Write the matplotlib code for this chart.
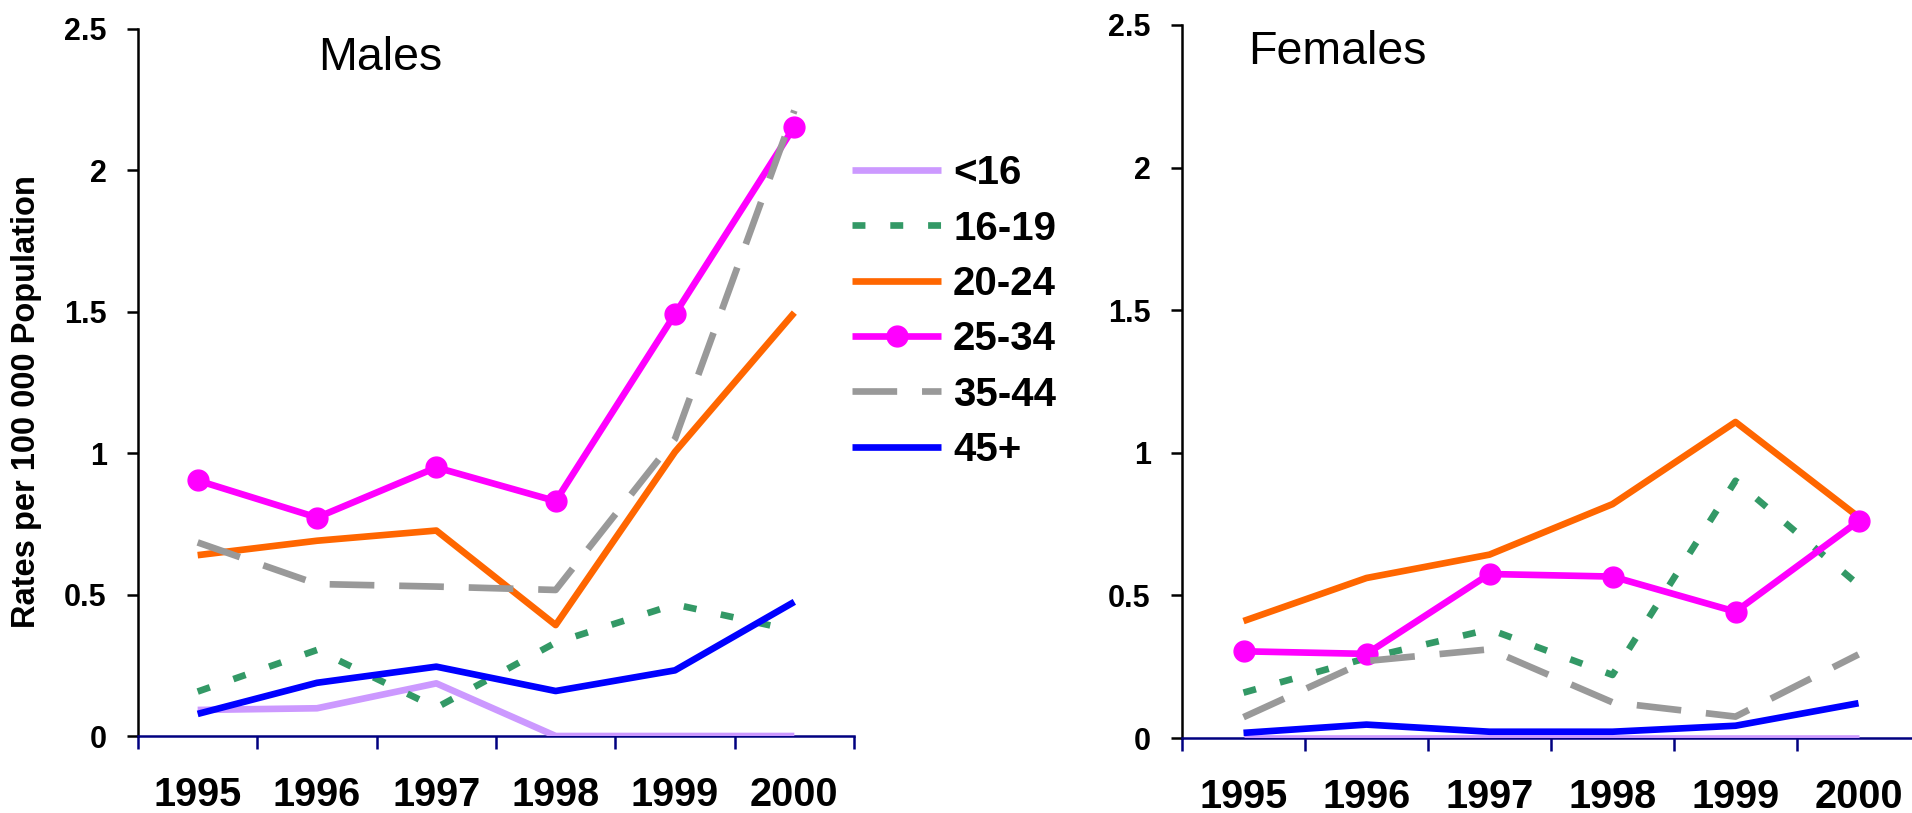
import numpy as np
import matplotlib
matplotlib.use('Agg')
import matplotlib.pyplot as plt

plt.rcParams['font.family']=['Liberation Sans','DejaVu Sans']

years=['1995','1996','1997','1998','1999','2000']
groups=['<16','16-19','20-24','25-34','35-44','45+']

# males, rates per 100 000
males_u16=[0.092,0.098,0.186,0.0,0.0,0.0]
males_16_19=[0.157,0.304,0.10,0.33,0.465,0.372]
males_20_24=[0.639,0.69,0.726,0.392,1.004,1.496]
males_25_34=[0.903,0.772,0.949,0.830,1.491,2.153]
males_35_44=[0.684,0.537,0.528,0.516,1.05,2.21]
males_45p=[0.078,0.188,0.245,0.159,0.232,0.474]

# females
females_u16=[0.0,0.0,0.0,0.0,0.0,0.0]
females_16_19=[0.159,0.28,0.381,0.221,0.902,0.537]
females_20_24=[0.41,0.561,0.643,0.82,1.108,0.775]
females_25_34=[0.304,0.295,0.575,0.566,0.443,0.76]
females_35_44=[0.073,0.27,0.311,0.125,0.075,0.293]
females_45p=[0.018,0.047,0.022,0.022,0.043,0.122]

yticks=[0,0.5,1,1.5,2,2.5]
ytick_labels=['0','0.5','1','1.5','2','2.5']

colors=['#CC99FF','#339966','#FF6600','#FF00FF','#999999','#0000FF']
navy='#000080'

def draw(ax,series,title,tx,ty):
    x=np.arange(len(years))
    for i,vals in enumerate(series):
        kw=dict(color=colors[i],lw=4.8,label=groups[i],solid_capstyle='butt',zorder=3)
        if i==3:
            kw.update(marker='o',ms=15,mec=colors[i],mfc=colors[i])
        line,=ax.plot(x,vals,**kw)
        if i==1:
            line.set_dashes((1.94,3.73))
        if i==4:
            line.set_dashes((6.7,3.73))
    ax.set_xlim(-0.5,5.5)
    ax.set_ylim(0,2.5)
    ax.set_yticks(yticks)
    ax.set_yticklabels(ytick_labels,fontsize=22,fontweight='bold')
    ax.set_xticks(x)
    ax.set_xticklabels(years,fontsize=28.5,fontweight='bold')
    ax.set_xticks(np.arange(-0.5,6,1),minor=True)
    ax.tick_params(axis='x',which='major',length=0,pad=29)
    ax.tick_params(axis='x',which='minor',length=9.5,width=1.8,color=navy,direction='out')
    ax.tick_params(axis='y',length=8,width=1.8,pad=14.5,color='black')
    ax.spines['top'].set_visible(False)
    ax.spines['right'].set_visible(False)
    ax.spines['bottom'].set_color(navy)
    ax.spines['bottom'].set_linewidth(1.8)
    ax.spines['left'].set_linewidth(1.8)
    ax.text(tx,ty,title,transform=ax.transAxes,fontsize=33.5,va='baseline',ha='left')

fig=plt.figure(figsize=(19.12,8.13),dpi=100)
ax1=fig.add_axes([138/1912,77/813,716/1912,707.5/813])
ax2=fig.add_axes([1182/1912,75/813,738/1912,713/813])

draw(ax1,[males_u16,males_16_19,males_20_24,males_25_34,males_35_44,males_45p],'Males',0.251,0.942)
draw(ax2,[females_u16,females_16_19,females_20_24,females_25_34,females_35_44,females_45p],'Females',0.0894,0.945)

fig.text(27/1912,0.5055,'Rates per 100 000 Population',rotation=90,fontsize=23.5,
         fontweight='bold',ha='center',va='center')

h,l=ax1.get_legend_handles_labels()
fig.legend(h,l,loc='center left',bbox_to_anchor=(852/1912,0.6168),frameon=False,
           prop={'weight':'bold','size':29},handlelength=2.21,handletextpad=0.3,
           labelspacing=0.43,borderpad=0,borderaxespad=0,numpoints=1)

fig.savefig('out.png',dpi=100)
